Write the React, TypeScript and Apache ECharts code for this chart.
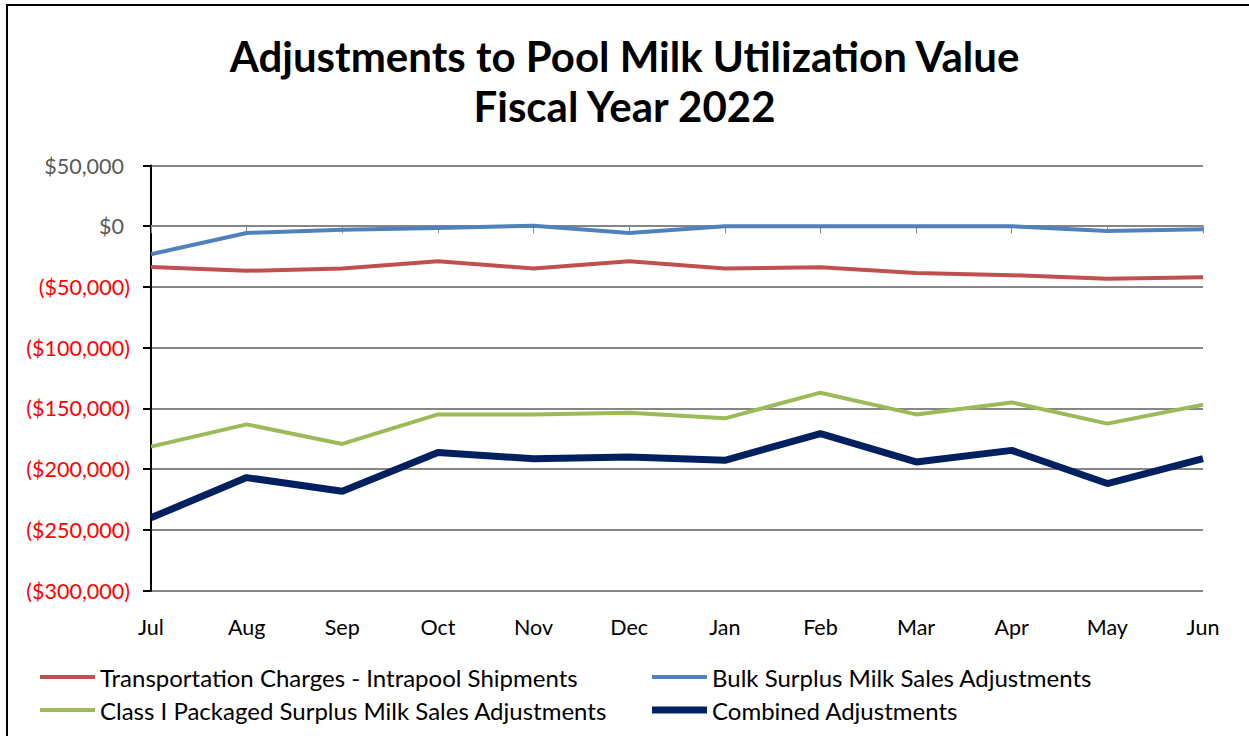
import React, { useEffect, useRef } from "react";
import * as echarts from "echarts";

const months = ["Jul", "Aug", "Sep", "Oct", "Nov", "Dec", "Jan", "Feb", "Mar", "Apr", "May", "Jun"];
const transportation = [-33500, -36700, -34800, -28800, -34800, -28800, -34800, -33700, -38400, -40300, -43300, -41900];
const bulkSurplus = [-23000, -5500, -2800, -1400, 500, -5500, 0, 0, 0, 0, -3900, -2500];
const classIPackaged = [-181400, -163100, -179200, -154900, -154900, -153500, -158100, -137000, -154900, -145000, -162500, -146900];
const combined = [-240000, -206900, -218200, -186300, -191300, -189900, -192700, -170700, -194000, -184500, -211800, -191300];

const seriesNames = [
  "Transportation Charges - Intrapool Shipments",
  "Bulk Surplus Milk Sales Adjustments",
  "Class I Packaged Surplus Milk Sales Adjustments",
  "Combined Adjustments",
];
const colors = ["#C0504D", "#4F81BD", "#9BBB59", "#002060"];
const FONT = "Lato, 'Open Sans', sans-serif";

function fmt(v: number): string {
  const abs = Math.abs(v).toLocaleString("en-US");
  return v < 0 ? `{n|($${abs})}` : `{p|$${abs}}`;
}

export default function App() {
  const ref = useRef<HTMLDivElement>(null);
  useEffect(() => {
    if (!ref.current) return;
    const chart = echarts.init(ref.current, undefined, { renderer: "svg" });
    const dataSets = [transportation, bulkSurplus, classIPackaged, combined];
    const legendPos = [
      { left: 35, top: 660 },
      { left: 647, top: 660 },
      { left: 35, top: 693 },
      { left: 647, top: 693 },
    ];
    chart.setOption({
      animation: false,
      backgroundColor: "#ffffff",
      title: {
        text: "Adjustments to Pool Milk Utilization Value\nFiscal Year 2022",
        left: "center",
        top: 26,
        textStyle: { fontFamily: FONT, fontSize: 42, fontWeight: "bold", color: "#000000", lineHeight: 50 },
      },
      graphic: [
        {
          type: "rect",
          shape: { x: 7, y: 5, width: 1300, height: 800 },
          style: { fill: "none", stroke: "#000000", lineWidth: 2 },
          silent: true,
        },
      ],
      legend: seriesNames.map((name, i) => ({
        data: [name],
        left: legendPos[i].left,
        top: legendPos[i].top,
        icon: "rect",
        itemWidth: 55,
        itemHeight: i === 3 ? 7 : 4,
        itemGap: 10,
        textStyle: { fontFamily: FONT, fontSize: 24, color: "#000000" },
      })),
      grid: { left: 151, right: 46, top: 165.5, bottom: 145.3, containLabel: false },
      xAxis: {
        type: "category",
        data: months,
        boundaryGap: false,
        axisLine: { lineStyle: { color: "#868686", width: 2 } },
        axisTick: { show: true, length: 7, lineStyle: { color: "#868686", width: 1 } },
        axisLabel: { fontFamily: FONT, fontSize: 21.5, color: "#000000", margin: 25 },
      },
      yAxis: {
        type: "value",
        min: -300000,
        max: 50000,
        interval: 50000,
        axisLine: { show: true, lineStyle: { color: "#000000", width: 2 } },
        axisTick: { show: true, length: 8, lineStyle: { color: "#000000", width: 2 } },
        splitLine: { lineStyle: { color: "#868686", width: 2 } },
        axisLabel: {
          margin: 21,
          formatter: fmt,
          rich: {
            p: { fontFamily: FONT, fontSize: 21.5, color: "#595959", padding: [0, 6, 0, 0] },
            n: { fontFamily: FONT, fontSize: 21.5, color: "#FF0000" },
          },
        },
      },
      series: seriesNames.map((name, i) => ({
        name,
        type: "line",
        data: dataSets[i],
        symbol: "none",
        color: colors[i],
        lineStyle: { color: colors[i], width: i === 3 ? 7 : 4 },
        z: i === 3 ? 5 : 3,
      })),
    });
    return () => chart.dispose();
  }, []);
  return (
    <div
      ref={ref}
      style={{ position: "fixed", left: 0, top: 0, width: 1249, height: 736 }}
    />
  );
}
